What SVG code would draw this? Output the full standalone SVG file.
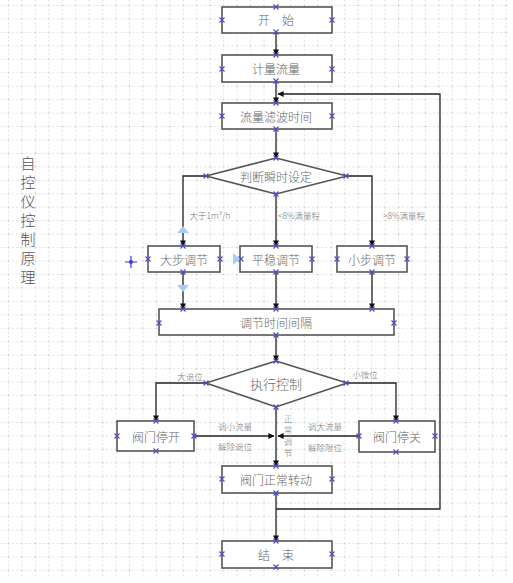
<svg xmlns="http://www.w3.org/2000/svg" width="513" height="583" viewBox="0 0 513 583">
<defs>
<pattern id="grid" x="8" y="5" width="13.45" height="13.45" patternUnits="userSpaceOnUse">
<path d="M0 0V13.45M0 0H13.45" fill="none" stroke="#b8b8b8" stroke-width="0.8" stroke-dasharray="2 2"/>
</pattern>
<marker id="arr" viewBox="0 0 8 8" refX="7.5" refY="4" markerWidth="6" markerHeight="6" orient="auto" markerUnits="userSpaceOnUse">
<path d="M0 0L8 4L0 8Z" fill="#111"/>
</marker>
<g id="xm"><path d="M-2.5 -2.5L2.5 2.5M-2.5 2.5L2.5 -2.5" stroke="#4a4ad0" stroke-width="1.1"/></g>
</defs>
<style>
.box{fill:#fff;stroke:#555;stroke-width:1.6}
.t{font-family:"Noto Sans CJK SC","Noto Sans",sans-serif;font-size:12px;font-weight:300;fill:#666;text-anchor:middle;dominant-baseline:central}
.l{font-family:"Noto Sans CJK SC","Noto Sans",sans-serif;font-size:8.5px;font-weight:300;fill:#777;text-anchor:middle;dominant-baseline:central}
.v{font-size:8px}
.c{fill:none;stroke:#222;stroke-width:1.3}
.tri{fill:#a8cdf0}
</style>
<rect width="513" height="583" fill="#fff"/>
<rect x="0" y="0" width="508" height="578" fill="url(#grid)"/>

<g id="title">
<text class="t" style="font-size:15px;fill:#555" x="28" y="162">自</text>
<text class="t" style="font-size:15px;fill:#555" x="28" y="181">控</text>
<text class="t" style="font-size:15px;fill:#555" x="28" y="200">仪</text>
<text class="t" style="font-size:15px;fill:#555" x="28" y="219">控</text>
<text class="t" style="font-size:15px;fill:#555" x="28" y="238">制</text>
<text class="t" style="font-size:15px;fill:#555" x="28" y="257">原</text>
<text class="t" style="font-size:15px;fill:#555" x="28" y="276">理</text>
</g>

<g id="connectors">
<path class="c" d="M276 32V55" marker-end="url(#arr)"/>
<path class="c" d="M276 82V103" marker-end="url(#arr)"/>
<path class="c" d="M276 129V158" marker-end="url(#arr)"/>
<path class="c" d="M206 176H183V246" marker-end="url(#arr)"/>
<path class="c" d="M276 194V246" marker-end="url(#arr)"/>
<path class="c" d="M347 176H372V246" marker-end="url(#arr)"/>
<path class="c" d="M183 272V309" marker-end="url(#arr)"/>
<path class="c" d="M276 272V309" marker-end="url(#arr)"/>
<path class="c" d="M372 272V309" marker-end="url(#arr)"/>
<path class="c" d="M276 335V361" marker-end="url(#arr)"/>
<path class="c" d="M206 383H156V421" marker-end="url(#arr)"/>
<path class="c" d="M347 383H396V421" marker-end="url(#arr)"/>
<path class="c" d="M276 407V466" marker-end="url(#arr)"/>
<path class="c" d="M194 436H274" marker-end="url(#arr)"/>
<path class="c" d="M359 436H278" marker-end="url(#arr)"/>
<path class="c" d="M276 493V541" marker-end="url(#arr)"/>
<path class="c" d="M276 509H440V94H278" marker-end="url(#arr)"/>
<text class="l" x="210" y="215">大于1m³/h</text>
<text class="l" x="299" y="215">&lt;8%满量程</text>
<text class="l" x="404" y="215">&gt;8%满量程</text>
<text class="l" x="190" y="376">大退位</text>
<text class="l" x="365" y="374">小微位</text>
<text class="l" x="235" y="426">调小流量</text>
<text class="l" x="235" y="446">解除退位</text>
<text class="l" x="325" y="426">调大流量</text>
<text class="l" x="325" y="447">解除限位</text>
<text class="l v" x="288" y="418">正</text>
<text class="l v" x="288" y="429.5">常</text>
<text class="l v" x="288" y="441">调</text>
<text class="l v" x="288" y="452.5">节</text>
</g>

<g id="n-start"><rect class="box" x="222" y="7" width="110" height="26"/><text class="t" x="276" y="19.5">开　始</text></g>
<g id="n-measure"><rect class="box" x="222" y="55" width="110" height="27"/><text class="t" x="276" y="68.5">计量流量</text></g>
<g id="n-filter"><rect class="box" x="222" y="103" width="110" height="26"/><text class="t" x="276" y="116">流量滤波时间</text></g>
<g id="n-judge"><path class="box" d="M276 158L347 176L276 194L206 176Z"/><text class="t" x="276" y="176">判断瞬时设定</text></g>
<g id="n-big"><rect class="box" x="148" y="246" width="72" height="26"/><text class="t" x="184" y="259">大步调节</text></g>
<g id="n-steady"><rect class="box" x="240" y="246" width="72" height="26"/><text class="t" x="276" y="259">平稳调节</text></g>
<g id="n-small"><rect class="box" x="337" y="246" width="70" height="26"/><text class="t" x="372" y="259">小步调节</text></g>
<g id="n-interval"><rect class="box" x="159" y="309" width="235" height="26"/><text class="t" x="276" y="322">调节时间间隔</text></g>
<g id="n-exec"><path class="box" d="M276 361L347 383L276 407L206 383Z"/><text class="t" style="font-size:13px" x="276" y="383">执行控制</text></g>
<g id="n-open"><rect class="box" x="117" y="421" width="77" height="30"/><text class="t" x="156" y="436">阀门停开</text></g>
<g id="n-close"><rect class="box" x="359" y="421" width="76" height="31"/><text class="t" x="397" y="436">阀门停关</text></g>
<g id="n-normal"><rect class="box" x="222" y="466" width="110" height="27"/><text class="t" x="276" y="479.5">阀门正常转动</text></g>
<g id="n-end"><rect class="box" x="222" y="541" width="110" height="27"/><text class="t" x="276" y="554.5">结　束</text></g>

<g id="handles">
<use href="#xm" x="276" y="7"/><use href="#xm" x="276" y="32"/><use href="#xm" x="222" y="20"/><use href="#xm" x="332" y="20"/>
<use href="#xm" x="276" y="55"/><use href="#xm" x="276" y="81"/><use href="#xm" x="222" y="69"/><use href="#xm" x="332" y="69"/>
<use href="#xm" x="276" y="103"/><use href="#xm" x="276" y="129"/><use href="#xm" x="222" y="116"/><use href="#xm" x="332" y="116"/>
<use href="#xm" x="276" y="158"/><use href="#xm" x="276" y="194"/><use href="#xm" x="206" y="176"/><use href="#xm" x="346" y="176"/>
<use href="#xm" x="183" y="246"/><use href="#xm" x="183" y="272"/><use href="#xm" x="148" y="259"/><use href="#xm" x="220" y="259"/>
<use href="#xm" x="276" y="246"/><use href="#xm" x="276" y="272"/><use href="#xm" x="241" y="259"/><use href="#xm" x="312" y="259"/>
<use href="#xm" x="372" y="246"/><use href="#xm" x="372" y="272"/><use href="#xm" x="337" y="259"/><use href="#xm" x="407" y="259"/>
<use href="#xm" x="183" y="309"/><use href="#xm" x="276" y="309"/><use href="#xm" x="372" y="309"/><use href="#xm" x="276" y="335"/><use href="#xm" x="159" y="323"/><use href="#xm" x="394" y="323"/>
<use href="#xm" x="276" y="361"/><use href="#xm" x="276" y="407"/><use href="#xm" x="206" y="383"/><use href="#xm" x="346" y="383"/>
<use href="#xm" x="156" y="421"/><use href="#xm" x="156" y="451"/><use href="#xm" x="117" y="436"/><use href="#xm" x="194" y="436"/>
<use href="#xm" x="396" y="421"/><use href="#xm" x="396" y="452"/><use href="#xm" x="359" y="436"/><use href="#xm" x="435" y="436"/>
<use href="#xm" x="276" y="466"/><use href="#xm" x="276" y="493"/><use href="#xm" x="222" y="479"/><use href="#xm" x="332" y="479"/>
<use href="#xm" x="276" y="541"/><use href="#xm" x="276" y="567"/><use href="#xm" x="222" y="554"/><use href="#xm" x="332" y="554"/>
<path class="tri" d="M183 226L189 233H177Z"/>
<path class="tri" d="M183 292L189 285H177Z"/>
<path class="tri" d="M240 259L233 253V265Z"/>
<path d="M131 256V268M125 262H137" stroke="#3a3ae0" stroke-width="1.2"/>
<circle cx="131" cy="262" r="2" fill="#3a3ae0"/>
</g>
</svg>
